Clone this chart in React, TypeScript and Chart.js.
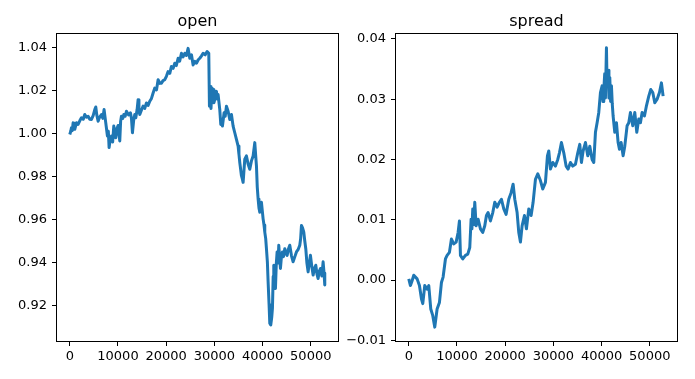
import React, { useEffect, useRef } from "react";
import { Chart, registerables } from "chart.js";

Chart.register(...registerables);

// ---- data ----
const openX = [0, 200, 346, 520, 692, 860, 1037, 1400, 1729, 2100, 2421, 2800, 3112, 3450, 3804, 4150, 4495, 4850, 5187, 5395, 5600, 5879, 6200, 6570, 6850, 7123, 7469, 7815, 8000, 8161, 8400, 8645, 8900, 9129, 9350, 9544, 9800, 10028, 10200, 10374, 10550, 10720, 11000, 11204, 11500, 11757, 12200, 12587, 12800, 13002, 13250, 13486, 13700, 13970, 14178, 14350, 14524, 14900, 15215, 15550, 15907, 16250, 16598, 16950, 17290, 17636, 18000, 18327, 18700, 19019, 19350, 19711, 20050, 20402, 20750, 21094, 21450, 21785, 22100, 22477, 22800, 23169, 23500, 23860, 24200, 24552, 24898, 25250, 25589, 25950, 26281, 26650, 26972, 27300, 27664, 28100, 28494, 28840, 28978, 29080, 29185, 29300, 29393, 29550, 29739, 29900, 30085, 30250, 30430, 30600, 30776, 31122, 31329, 31500, 31675, 32021, 32250, 32505, 32851, 33197, 33543, 33888, 34234, 34580, 34926, 35100, 35272, 35450, 35618, 35800, 35964, 36310, 36655, 37001, 37347, 37693, 38038, 38384, 38550, 38730, 38900, 39075, 39250, 39421, 39767, 40113, 40300, 40459, 40650, 40804, 41000, 41150, 41350, 41496, 41703, 41900, 42049, 42200, 42326, 42500, 42672, 42850, 43018, 43200, 43363, 43550, 43709, 43900, 44124, 44350, 44608, 44850, 45092, 45350, 45646, 46000, 46337, 46700, 47029, 47400, 47720, 47900, 48066, 48300, 48551, 48750, 48966, 49200, 49449, 49700, 49934, 50200, 50487, 50750, 51040, 51300, 51524, 51750, 52008, 52300, 52562, 52750, 52907];
const openY = [0.9997, 1.0012, 1.0028, 1.0015, 1.0051, 1.0038, 1.0021, 1.0052, 1.0044, 1.0062, 1.0075, 1.0068, 1.009, 1.0078, 1.0082, 1.0068, 1.0067, 1.0085, 1.0113, 1.0125, 1.0088, 1.0059, 1.0078, 1.009, 1.0072, 1.0113, 1.0051, 0.999, 1.0012, 0.9936, 0.9975, 0.999, 0.9962, 1.0036, 1.0008, 0.9982, 1.0025, 1.0039, 1.0002, 0.9967, 1.0058, 1.0082, 1.0072, 1.009, 1.0082, 1.0105, 1.0088, 1.0098, 1.0072, 1.0005, 1.0062, 1.009, 1.0075, 1.0113, 1.0159, 1.0108, 1.009, 1.0112, 1.0129, 1.0118, 1.0144, 1.0132, 1.0152, 1.0165, 1.019, 1.0213, 1.0205, 1.0252, 1.0235, 1.0236, 1.0248, 1.0252, 1.0268, 1.029, 1.0282, 1.0314, 1.0305, 1.0329, 1.0318, 1.0352, 1.0338, 1.0375, 1.0358, 1.0375, 1.0365, 1.0398, 1.0352, 1.0368, 1.0321, 1.0338, 1.0329, 1.0345, 1.0352, 1.0362, 1.0375, 1.0368, 1.0383, 1.0375, 1.0129, 1.0198, 1.0221, 1.0118, 1.0159, 1.0212, 1.0206, 1.0145, 1.0159, 1.0185, 1.0198, 1.0162, 1.0183, 1.0113, 1.0044, 1.0068, 1.0036, 1.0098, 1.0082, 1.0129, 1.0105, 1.0067, 1.009, 1.0036, 1.0005, 0.9974, 0.9943, 0.9905, 0.9866, 0.9835, 0.9805, 0.979, 0.9774, 0.9882, 0.9897, 0.9859, 0.9835, 0.9874, 0.9897, 0.9959, 0.9905, 0.9851, 0.9752, 0.9697, 0.9655, 0.9635, 0.9681, 0.9604, 0.9575, 0.9542, 0.9512, 0.9465, 0.9402, 0.9311, 0.9205, 0.9118, 0.911, 0.9145, 0.9188, 0.9335, 0.9388, 0.9312, 0.928, 0.9395, 0.945, 0.9398, 0.9481, 0.9422, 0.9373, 0.9425, 0.945, 0.9428, 0.9465, 0.9445, 0.9434, 0.9462, 0.9481, 0.9432, 0.9404, 0.9428, 0.945, 0.9462, 0.9481, 0.9512, 0.9573, 0.9562, 0.9542, 0.9502, 0.9465, 0.9398, 0.9357, 0.9398, 0.9434, 0.9385, 0.9342, 0.9372, 0.9388, 0.9345, 0.9326, 0.9358, 0.9373, 0.9338, 0.9404, 0.9352, 0.9296];

const spreadX = [0, 346, 692, 1037, 1729, 2213, 2628, 2905, 3320, 3804, 4150, 4565, 4980, 5394, 5879, 6363, 6778, 7123, 7608, 7953, 8437, 8852, 9337, 9821, 10236, 10512, 10720, 11204, 11757, 12241, 12656, 12933, 13100, 13279, 13450, 13694, 13970, 14385, 14869, 15354, 15768, 16114, 16460, 16944, 17428, 17843, 18327, 18811, 19226, 19711, 20195, 20748, 21232, 21647, 21993, 22477, 22823, 23169, 23514, 23999, 24413, 24898, 25382, 25797, 26281, 26765, 27318, 27802, 28355, 28770, 29047, 29393, 29877, 30430, 30915, 31260, 31675, 32159, 32643, 33058, 33543, 34027, 34580, 35064, 35479, 35825, 36171, 36655, 37139, 37554, 38038, 38384, 38730, 39075, 39421, 39767, 40113, 40300, 40459, 40650, 40804, 41012, 41150, 41358, 41530, 41703, 41880, 42049, 42220, 42395, 42741, 43087, 43432, 43709, 44055, 44470, 44816, 45300, 45646, 45991, 46476, 46890, 47305, 47720, 48066, 48412, 48896, 49311, 49795, 50210, 50625, 51040, 51524, 52008, 52423, 52769, 53046, 53115];
const spreadY = [0.0002, -0.0009, -0.0001, 0.0008, 0.0002, -0.0009, -0.0031, -0.0039, -0.0009, -0.0015, -0.0009, -0.0048, -0.0059, -0.0078, -0.0048, -0.0037, -0.0004, 0.0005, 0.0035, 0.0041, 0.0046, 0.0068, 0.006, 0.0063, 0.0079, 0.0098, 0.0041, 0.0035, 0.0041, 0.0043, 0.0054, 0.0101, 0.0085, 0.0118, 0.0092, 0.0129, 0.009, 0.0101, 0.0085, 0.0079, 0.009, 0.0107, 0.0112, 0.0098, 0.0112, 0.0129, 0.0121, 0.0129, 0.0134, 0.0118, 0.0109, 0.0134, 0.0145, 0.0159, 0.0134, 0.0112, 0.0079, 0.0063, 0.009, 0.0107, 0.0085, 0.0118, 0.0107, 0.0129, 0.0167, 0.0176, 0.0165, 0.0151, 0.0162, 0.0206, 0.0214, 0.0184, 0.0195, 0.0189, 0.02, 0.0211, 0.0228, 0.0211, 0.0189, 0.0184, 0.0195, 0.0189, 0.0192, 0.0211, 0.0225, 0.0195, 0.0214, 0.0228, 0.0206, 0.0222, 0.02, 0.0195, 0.0245, 0.0261, 0.0278, 0.0311, 0.0322, 0.0296, 0.0315, 0.0342, 0.0302, 0.0385, 0.0322, 0.0348, 0.0302, 0.0336, 0.0296, 0.0322, 0.0292, 0.0272, 0.0245, 0.0261, 0.0228, 0.0217, 0.0228, 0.0206, 0.0222, 0.0256, 0.0261, 0.0278, 0.0256, 0.0278, 0.0245, 0.0267, 0.0261, 0.0278, 0.0272, 0.0289, 0.0305, 0.0316, 0.0311, 0.0294, 0.03, 0.0311, 0.0327, 0.0305];

const xTicks = [0, 10000, 20000, 30000, 40000, 50000];
const xTickLabels = ["0", "10000", "20000", "30000", "40000", "50000"];
const openTicks = [0.92, 0.94, 0.96, 0.98, 1.0, 1.02, 1.04];
const openTickLabels = ["0.92", "0.94", "0.96", "0.98", "1.00", "1.02", "1.04"];
const spreadTicks = [-0.01, 0, 0.01, 0.02, 0.03, 0.04];
const spreadTickLabels = ["\u22120.01", "0.00", "0.01", "0.02", "0.03", "0.04"];

const X_MIN = -2650;
const X_MAX = 55650;
const LINE_COLOR = "#1f77b4";
const FONT = "DejaVu Sans";

function makeChart(
  canvas: HTMLCanvasElement,
  xs: number[],
  ys: number[],
  yMin: number,
  yMax: number,
  yTicks: number[],
  yLabels: string[],
  title: string,
  yAxisWidth: number,
  rightPad: number
) {
  const framePlugin = {
    id: "frameAndTitle",
    afterDraw(chart: any) {
      const { ctx, chartArea } = chart;
      ctx.save();
      ctx.strokeStyle = "#000";
      ctx.lineWidth = 1;
      ctx.strokeRect(
        Math.round(chartArea.left) - 0.5,
        Math.round(chartArea.top) - 0.5,
        Math.round(chartArea.right - chartArea.left) + 1,
        Math.round(chartArea.bottom - chartArea.top) + 1
      );
      ctx.fillStyle = "#000";
      ctx.font = `16px "${FONT}"`;
      ctx.textAlign = "center";
      ctx.textBaseline = "alphabetic";
      ctx.fillText(title, (chartArea.left + chartArea.right) / 2, chartArea.top - 8);
      ctx.restore();
    },
  };
  return new Chart(canvas, {
    type: "line",
    data: {
      datasets: [
        {
          data: xs.map((x, i) => ({ x, y: ys[i] })),
          borderColor: LINE_COLOR,
          borderWidth: 3,
          borderJoinStyle: "round",
          pointRadius: 0,
          tension: 0,
          fill: false,
        },
      ],
    },
    options: {
      responsive: false,
      animation: false,
      devicePixelRatio: 1,
      layout: { padding: { left: 0, top: 34, right: rightPad, bottom: 0 } },
      plugins: { legend: { display: false }, tooltip: { enabled: false }, title: { display: false } },
      scales: {
        x: {
          type: "linear",
          min: X_MIN,
          max: X_MAX,
          afterBuildTicks: (scale: any) => {
            scale.ticks = xTicks.map((v) => ({ value: v }));
          },
          afterFit: (scale: any) => {
            scale.height = 38;
          },
          ticks: {
            autoSkip: false,
            maxRotation: 0,
            padding: 3,
            color: "#000",
            font: { family: FONT, size: 13 },
            callback: (v: any) => xTickLabels[xTicks.indexOf(Number(v))],
          },
          grid: { drawOnChartArea: false, drawTicks: true, tickLength: 5, color: "#000" },
          border: { display: false },
        },
        y: {
          type: "linear",
          min: yMin,
          max: yMax,
          afterBuildTicks: (scale: any) => {
            scale.ticks = yTicks.map((v) => ({ value: v }));
          },
          afterFit: (scale: any) => {
            scale.width = yAxisWidth;
          },
          ticks: {
            autoSkip: false,
            padding: 5,
            color: "#000",
            font: { family: FONT, size: 13 },
            callback: (v: any) => yLabels[yTicks.indexOf(Number(v))],
          },
          grid: { drawOnChartArea: false, drawTicks: true, tickLength: 5, color: "#000" },
          border: { display: false },
        },
      },
    },
    plugins: [framePlugin],
  } as any);
}

export default function App() {
  const leftRef = useRef<HTMLCanvasElement>(null);
  const rightRef = useRef<HTMLCanvasElement>(null);

  useEffect(() => {
    const c1 = makeChart(leftRef.current!, openX, openY, 0.9035, 1.0465, openTicks, openTickLabels, "open", 57, 2);
    const c2 = makeChart(rightRef.current!, spreadX, spreadY, -0.0101, 0.0408, spreadTicks, spreadTickLabels, "spread", 56, 18);
    return () => {
      c1.destroy();
      c2.destroy();
    };
  }, []);

  return (
    <div style={{ position: "fixed", left: 0, top: 0, width: 695, height: 379, background: "#fff" }}>
      <canvas ref={leftRef} width={340} height={379} style={{ position: "absolute", left: 0, top: 0, width: 340, height: 379 }} />
      <canvas ref={rightRef} width={355} height={379} style={{ position: "absolute", left: 340, top: 0, width: 355, height: 379 }} />
    </div>
  );
}
